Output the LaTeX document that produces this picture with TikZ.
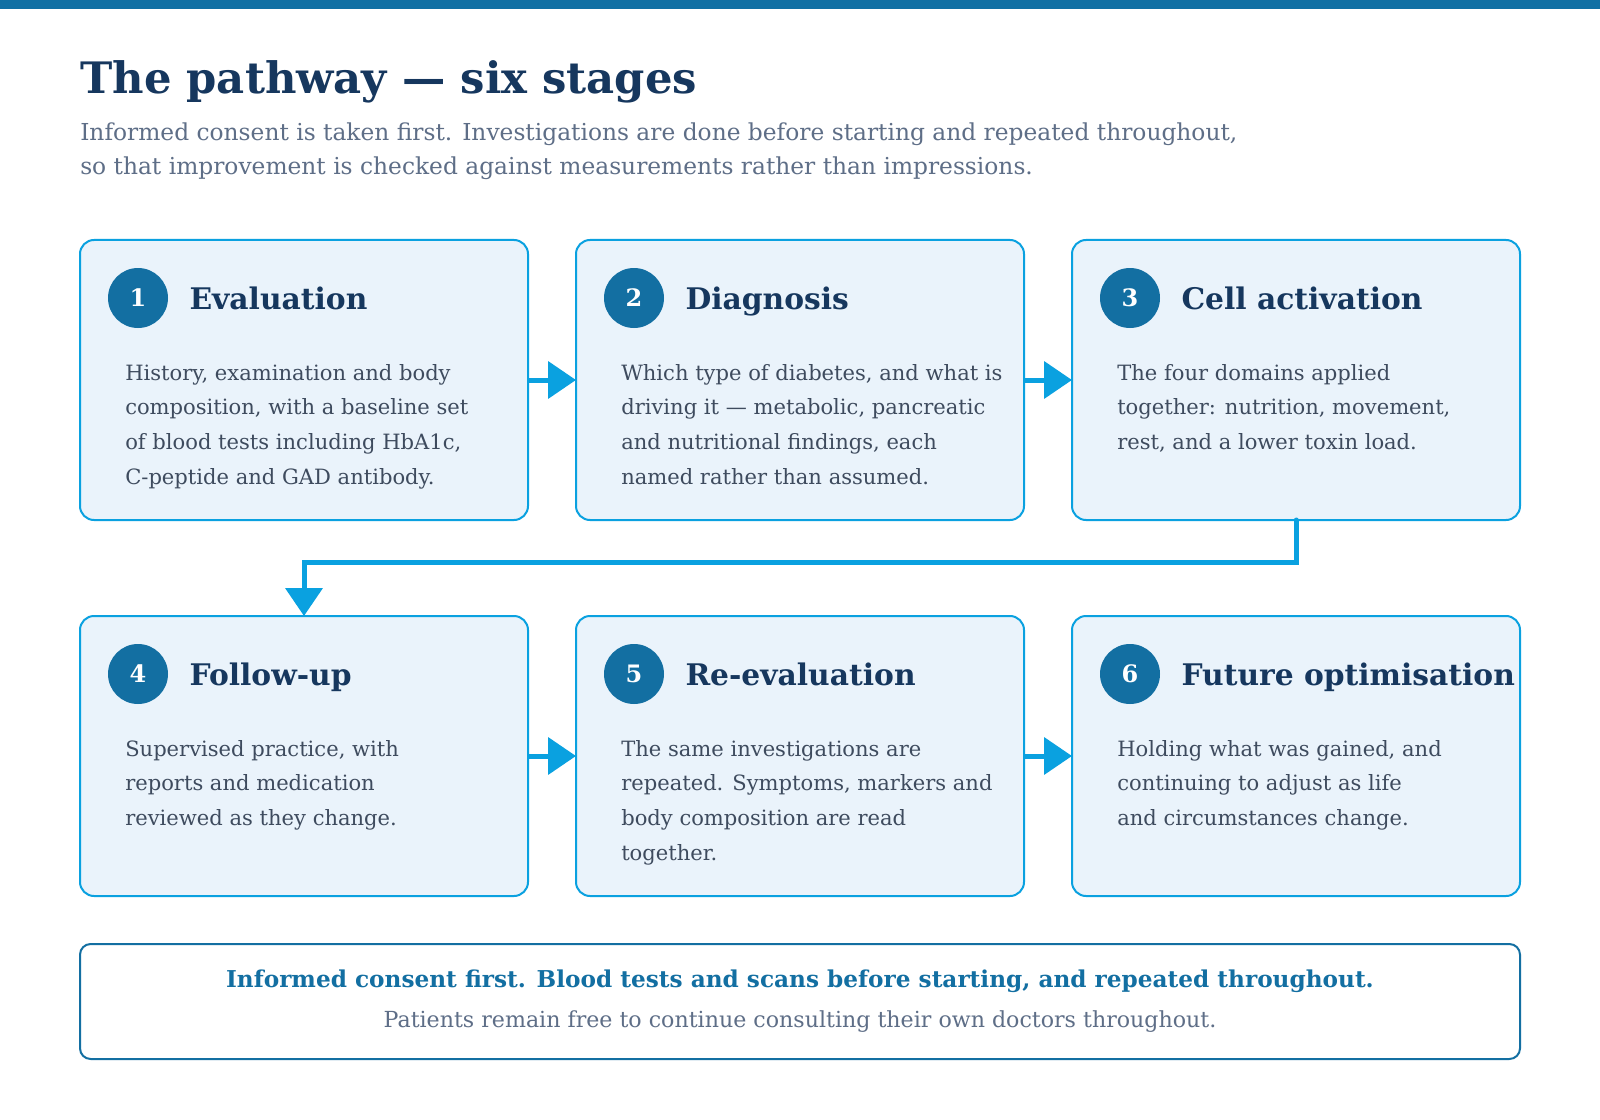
\documentclass[tikz,border=0pt]{standalone}
\usepackage{fontspec}
\setmainfont{DejaVu Serif}
\usetikzlibrary{positioning,arrows.meta}
\definecolor{topbar}{HTML}{1170A4}
\definecolor{sky}{HTML}{0AA1E0}
\definecolor{boxfill}{HTML}{EAF3FB}
\definecolor{badgeblue}{HTML}{136FA2}
\definecolor{navy}{HTML}{16375E}
\definecolor{slate}{HTML}{5E6E87}
\definecolor{bodytext}{HTML}{3E4B5E}
\begin{document}
\begin{tikzpicture}[x=0.75pt,y=-0.75pt,
    stage/.style = {draw=sky, line width=1.5pt, fill=boxfill, rounded corners=10.5pt,
      minimum width=336pt, minimum height=210pt, inner sep=0pt, outer sep=0pt},
    badge/.style = {circle, fill=badgeblue, text=white, minimum size=45pt, inner sep=0pt,
      font=\bfseries\fontsize{18}{18}\selectfont},
    head/.style = {anchor=base west, text=navy, inner sep=0pt,
      font=\bfseries\fontsize{22.3}{26}\selectfont},
    body/.style = {anchor=north west, align=left, text=bodytext, inner sep=0pt,
      font=\fontsize{15.8}{26}\selectfont},
    flow/.style = {-{Triangle[length=21pt,width=27.5pt]}, draw=sky, line width=3.75pt}]
	\fill[white] (0,0) rectangle (1600,1120);
	\useasboundingbox (0,0) rectangle (1600,1120);
	\fill[topbar] (0,0) rectangle (1600,9);
	% heading
	\node[anchor=base west, inner sep=0pt, text=navy, font=\bfseries\fontsize{32.5}{36}\selectfont] (title) at (80,94) {The pathway — six stages};
	\node[anchor=north west, align=left, inner sep=0pt, text=slate, font=\fontsize{17.5}{25.5}\selectfont] (intro) at (80,123)
		{Informed consent is taken first. Investigations are done before starting and repeated throughout,\\
		so that improvement is checked against measurements rather than impressions.};
	% stages
	\node[stage] (1) at (304,380) {};
	\node[stage] (2) [right=36pt of 1] {};
	\node[stage] (3) [right=36pt of 2] {};
	\node[stage] (4) [below=72pt of 1] {};
	\node[stage] (5) [right=36pt of 4] {};
	\node[stage] (6) [right=36pt of 5] {};
	\node[badge, xshift=43.5pt, yshift=-43.5pt] (b1) at (1.north west) {1};
	\node[badge, xshift=43.5pt, yshift=-43.5pt] (b2) at (2.north west) {2};
	\node[badge, xshift=43.5pt, yshift=-43.5pt] (b3) at (3.north west) {3};
	\node[badge, xshift=43.5pt, yshift=-43.5pt] (b4) at (4.north west) {4};
	\node[badge, xshift=43.5pt, yshift=-43.5pt] (b5) at (5.north west) {5};
	\node[badge, xshift=43.5pt, yshift=-43.5pt] (b6) at (6.north west) {6};
	\node[head, xshift=15.75pt, yshift=-8.25pt] (h1) at (b1.east) {Evaluation};
	\node[head, xshift=15.75pt, yshift=-8.25pt] (h2) at (b2.east) {Diagnosis};
	\node[head, xshift=15.75pt, yshift=-8.25pt] (h3) at (b3.east) {Cell activation};
	\node[head, xshift=15.75pt, yshift=-8.25pt] (h4) at (b4.east) {Follow-up};
	\node[head, xshift=15.75pt, yshift=-8.25pt] (h5) at (b5.east) {Re-evaluation};
	\node[head, xshift=15.75pt, yshift=-8.25pt] (h6) at (b6.east) {Future optimisation};
	\node[body, xshift=33.75pt, yshift=-93pt] (t1) at (1.north west)
		{History, examination and body\\composition, with a baseline set\\of blood tests including HbA1c,\\C-peptide and GAD antibody.};
	\node[body, xshift=33.75pt, yshift=-93pt] (t2) at (2.north west)
		{Which type of diabetes, and what is\\driving it — metabolic, pancreatic\\and nutritional findings, each\\named rather than assumed.};
	\node[body, xshift=33.75pt, yshift=-93pt] (t3) at (3.north west)
		{The four domains applied\\together: nutrition, movement,\\rest, and a lower toxin load.};
	\node[body, xshift=33.75pt, yshift=-93pt] (t4) at (4.north west)
		{Supervised practice, with\\reports and medication\\reviewed as they change.};
	\node[body, xshift=33.75pt, yshift=-93pt] (t5) at (5.north west)
		{The same investigations are\\repeated. Symptoms, markers and\\body composition are read\\together.};
	\node[body, xshift=33.75pt, yshift=-93pt] (t6) at (6.north west)
		{Holding what was gained, and\\continuing to adjust as life\\and circumstances change.};
	% connectors
	\draw[flow] (1) -- (2);
	\draw[flow] (2) -- (3);
	\draw[flow, line cap=round] (3.south) -- ++(0,42) -| (4.north);
	\draw[flow] (4) -- (5);
	\draw[flow] (5) -- (6);
	% footer
	\node[draw=badgeblue, line width=1.5pt, rounded corners=8pt, minimum width=1080pt, minimum height=86.25pt, inner sep=0pt] (note) at (800,1001.5) {};
	\node[anchor=base, inner sep=0pt, text=badgeblue, font=\bfseries\fontsize{17.4}{20}\selectfont] (n1) at (800,987)
		{Informed consent first. Blood tests and scans before starting, and repeated throughout.};
	\node[anchor=base, inner sep=0pt, text=slate, font=\fontsize{16.6}{20}\selectfont] (n2) at (800,1027)
		{Patients remain free to continue consulting their own doctors throughout.};
\end{tikzpicture}
\end{document}
